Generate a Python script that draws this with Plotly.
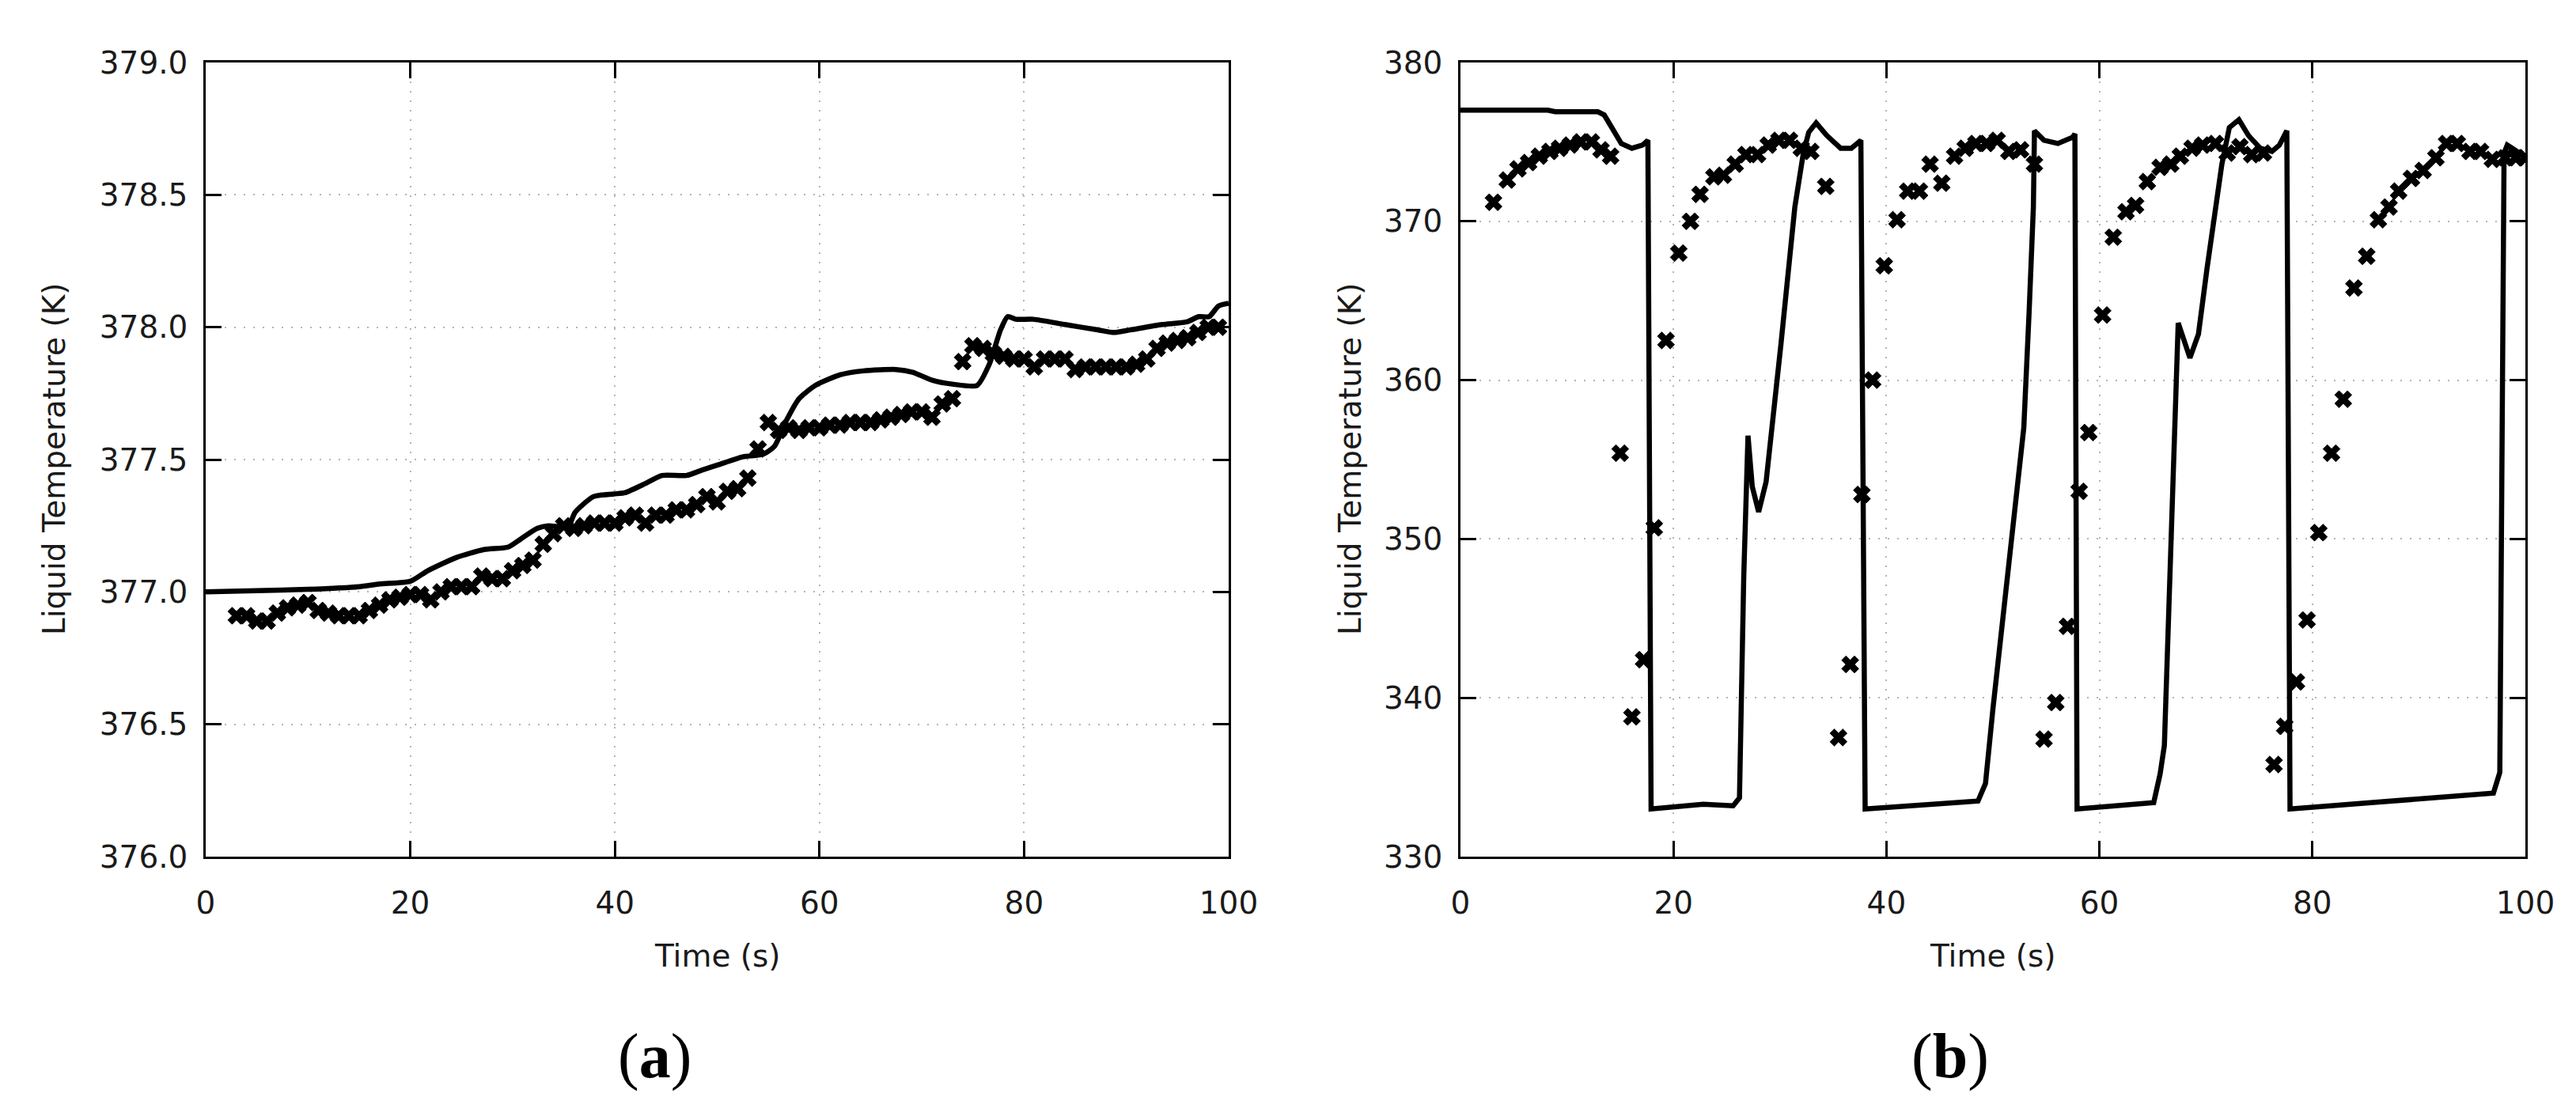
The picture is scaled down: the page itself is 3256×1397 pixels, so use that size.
import plotly.graph_objects as go

# ---------------- Panel (a) data ----------------
a_sim_t = [0, 5, 10, 15, 17, 20, 21.7, 24.5, 27.2, 29.6, 30.8, 32.4, 33.5, 34.8, 35.5, 36.1,
           37.9, 39.9, 41.0, 43.0, 44.6, 47.0, 48.5, 50.1, 52.5, 54.5, 55.6, 56.8, 58.0, 59.6,
           62.0, 64.3, 67.5, 69.1, 71.0, 73.0, 75.4, 76.6, 77.7, 78.4, 79.2, 80.9, 84.0, 87.2,
           88.8, 90.4, 93.5, 95.9, 97.1, 98.1, 99.0, 100]
a_sim_T = [377.00, 377.005, 377.01, 377.02, 377.03, 377.04, 377.08, 377.13, 377.16, 377.17,
           377.20, 377.24, 377.25, 377.245, 377.25, 377.30, 377.36, 377.37, 377.375, 377.41,
           377.44, 377.44, 377.46, 377.48, 377.51, 377.52, 377.55, 377.65, 377.73, 377.78,
           377.82, 377.835, 377.84, 377.83, 377.80, 377.785, 377.78, 377.86, 377.99, 378.04,
           378.03, 378.03, 378.01, 377.99, 377.98, 377.99, 378.01, 378.02, 378.04, 378.04,
           378.08, 378.09]

a_exp_t = list(range(3, 100))
a_exp_T = [376.91, 376.91, 376.89, 376.89, 376.92, 376.94, 376.95, 376.96, 376.93, 376.92,
           376.91, 376.91, 376.91, 376.93, 376.95, 376.97, 376.98, 376.99, 376.99, 376.97,
           377.00, 377.02, 377.02, 377.02, 377.06, 377.05, 377.05, 377.08, 377.10, 377.12,
           377.18, 377.22, 377.25, 377.24, 377.25, 377.26, 377.26, 377.26, 377.28, 377.29,
           377.26, 377.29, 377.29, 377.31, 377.31, 377.33, 377.36, 377.34, 377.38, 377.39,
           377.43, 377.54, 377.64, 377.61, 377.62, 377.61, 377.62, 377.62, 377.63, 377.63,
           377.64, 377.64, 377.64, 377.65, 377.66, 377.67, 377.68, 377.68, 377.66, 377.71,
           377.73, 377.87, 377.93, 377.92, 377.90, 377.89, 377.88, 377.88, 377.85, 377.88,
           377.88, 377.88, 377.84, 377.85, 377.85, 377.85, 377.85, 377.85, 377.86, 377.88,
           377.92, 377.94, 377.95, 377.96, 377.98, 378.00, 378.00]

# ---------------- Panel (b) data ----------------
b_sim_t = [0, 8.2, 8.9, 12.9, 13.5, 14.3, 15.1, 16.1, 17.1, 17.6, 17.9, 22.8, 25.6, 26.2,
           26.6, 27.0, 27.4, 28.0, 28.7, 30.1, 31.4, 32.2, 32.7, 33.4, 34.4, 35.7, 36.7, 37.6,
           38.0, 48.6, 49.3, 50.0, 51.1, 52.2, 52.9, 53.4, 53.8, 53.9, 54.8, 56.1, 57.5, 57.7,
           57.9, 65.1, 65.7, 66.1, 66.9, 67.4, 68.5, 69.3, 70.1, 71.5, 72.2, 73.1, 74.0, 75.1,
           76.2, 76.9, 77.6, 77.9, 97.0, 97.6, 98.0, 98.3, 99.0, 100]
b_sim_T = [377.0, 377.0, 376.9, 376.9, 376.7, 375.8, 374.9, 374.6, 374.8, 375.1, 333.0,
           333.3, 333.2, 333.7, 347.6, 356.5, 353.3, 351.7, 353.6, 362.3, 370.9, 374.3, 375.6,
           376.2, 375.4, 374.6, 374.6, 375.1, 333.0, 333.5, 334.6, 339.3, 346.0, 352.6, 357.0,
           364.3, 370.9, 375.7, 375.1, 374.9, 375.3, 375.5, 333.0, 333.4, 335.2, 337.0, 354.3,
           363.6, 361.4, 362.9, 367.0, 373.6, 375.9, 376.4, 375.4, 374.6, 374.4, 374.8, 375.7,
           333.0, 334.0, 335.3, 374.3, 374.8, 374.5, 374.0]

b_exp_t = [3.1, 4.4, 5.4, 6.4, 7.4, 8.4, 9.3, 10.3, 11.3, 12.3, 13.2, 14.1, 15.0, 16.1, 17.2,
           18.2, 19.3, 20.5, 21.6, 22.5, 23.8, 24.7, 25.8, 26.8, 27.9, 28.9, 29.9, 30.9, 32.0,
           32.9, 34.3, 35.5, 36.6, 37.7, 38.7, 39.8, 41.0, 42.0, 43.1, 44.1, 45.2, 46.4, 47.4,
           48.4, 49.4, 50.4, 51.5, 52.6, 53.9, 54.8, 55.9, 57.0, 58.1, 59.0, 60.3, 61.3, 62.5,
           63.4, 64.5, 65.7, 66.7, 67.6, 68.7, 69.7, 70.9, 72.0, 73.2, 74.3, 75.4, 76.4, 77.4,
           78.5, 79.5, 80.6, 81.8, 82.9, 83.9, 85.1, 86.2, 87.2, 88.1, 89.3, 90.4, 91.6, 92.6,
           93.6, 94.8, 95.8, 96.9, 98.1, 99.1, 100.0]
b_exp_T = [371.2, 372.6, 373.3, 373.7, 374.1, 374.4, 374.6, 374.8, 375.0, 375.0, 374.5,
           374.1, 355.4, 338.8, 342.4, 350.7, 362.5, 368.0, 370.0, 371.7, 372.8, 372.9, 373.6,
           374.2, 374.2, 374.8, 375.1, 375.1, 374.6, 374.4, 372.2, 337.5, 342.1, 352.8, 360.0,
           367.2, 370.1, 371.9, 371.9, 373.6, 372.4, 374.1, 374.6, 374.9, 374.9, 375.1, 374.4,
           374.5, 373.6, 337.4, 339.7, 344.5, 353.0, 356.7, 364.1, 369.0, 370.6, 371.0, 372.5,
           373.4, 373.6, 374.1, 374.6, 374.8, 374.9, 374.3, 374.7, 374.2, 374.3, 335.8, 338.2,
           341.0, 344.9, 350.4, 355.4, 358.8, 365.8, 367.8, 370.1, 370.9, 371.9, 372.7, 373.2,
           374.0, 374.9, 374.9, 374.4, 374.4, 373.9, 374.0, 374.0, 374.0]

x_ticks = [0, 20, 40, 60, 80, 100]
a_y_ticks = [376.0, 376.5, 377.0, 377.5, 378.0, 378.5, 379.0]
b_y_ticks = [330, 340, 350, 360, 370, 380]

# The page body has an 8px margin: size the figure to fit and place items in screen pixels.
OFF = 8
W, H = 3256 - 2 * OFF, 1397 - 2 * OFF
FONT = "DejaVu Sans"
TXT = "#1a1a1a"


def px(sx):
    return (sx - OFF) / W


def py(sy):
    return 1 - (sy - OFF) / H


fig = go.Figure()

marker_style = dict(symbol="x", size=19, color="black", line=dict(width=1, color="black"))
line_style = dict(color="black", width=6.5)

fig.add_trace(go.Scatter(x=a_exp_t, y=a_exp_T, mode="markers", marker=marker_style,
                         xaxis="x", yaxis="y", showlegend=False))
fig.add_trace(go.Scatter(x=a_sim_t, y=a_sim_T, mode="lines",
                         line=dict(shape="spline", smoothing=0.6, **line_style),
                         xaxis="x", yaxis="y", showlegend=False))
fig.add_trace(go.Scatter(x=b_exp_t, y=b_exp_T, mode="markers", marker=marker_style,
                         xaxis="x2", yaxis="y2", showlegend=False))
fig.add_trace(go.Scatter(x=b_sim_t, y=b_sim_T, mode="lines", line=line_style,
                         xaxis="x2", yaxis="y2", showlegend=False))

ydom = [py(1083), py(79)]
axis_common = dict(
    showline=True, linecolor="black", linewidth=2.5, mirror="ticks",
    ticks="inside", ticklen=20, tickwidth=2.5, tickcolor="black",
    showgrid=True, gridcolor="#b4b4b4", gridwidth=2, griddash="2px,10px",
    zeroline=False, automargin=False,
    tickfont=dict(family=FONT, size=39, color=TXT),
)

fig.update_layout(
    width=W, height=H, autosize=False,
    margin=dict(l=0, r=0, t=0, b=0, pad=0, autoexpand=False),
    paper_bgcolor="white", plot_bgcolor="white",
    xaxis=dict(domain=[px(260), px(1553)], range=[0, 100], tickvals=x_ticks,
               ticklabelstandoff=22, anchor="y", **axis_common),
    yaxis=dict(domain=ydom, range=[376.0, 379.0], tickvals=a_y_ticks, tickformat=".1f",
               ticklabelstandoff=12, anchor="x", **axis_common),
    xaxis2=dict(domain=[px(1846), px(3192)], range=[0, 100], tickvals=x_ticks,
                ticklabelstandoff=22, anchor="y2", **axis_common),
    yaxis2=dict(domain=ydom, range=[330, 380], tickvals=b_y_ticks,
                ticklabelstandoff=12, anchor="x2", **axis_common),
)

ann_font = dict(family=FONT, size=39, color=TXT)
annotations = [
    dict(text="Liquid Temperature (K)", x=px(69), y=py(581), textangle=-90),
    dict(text="Liquid Temperature (K)", x=px(1707), y=py(581), textangle=-90),
    dict(text="Time (s)", x=px(907), y=py(1208)),
    dict(text="Time (s)", x=px(2519), y=py(1208)),
]
for a in annotations:
    fig.add_annotation(xref="paper", yref="paper", showarrow=False, font=ann_font,
                       xanchor="center", yanchor="middle", **a)

lab_font = dict(family="Liberation Serif", size=80, color="black")
fig.add_annotation(text="(<b>a</b>)", x=px(827), y=py(1335), xref="paper", yref="paper",
                   showarrow=False, font=lab_font, xanchor="center", yanchor="middle")
fig.add_annotation(text="(<b>b</b>)", x=px(2465), y=py(1335), xref="paper", yref="paper",
                   showarrow=False, font=lab_font, xanchor="center", yanchor="middle")

fig.write_html("out.html")
